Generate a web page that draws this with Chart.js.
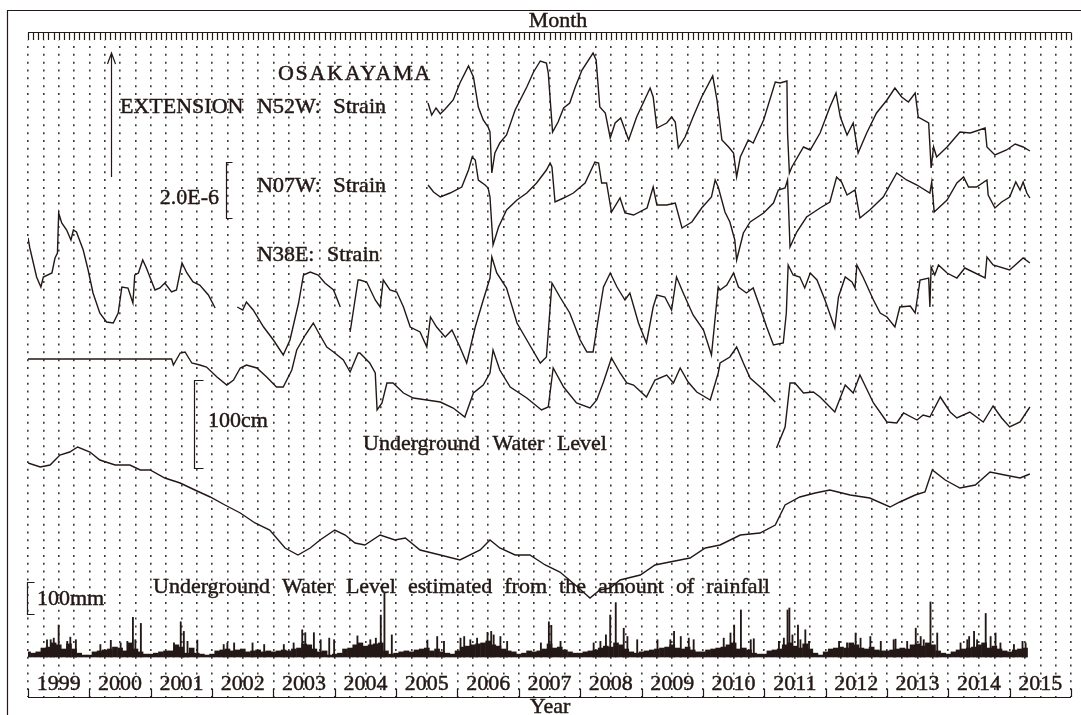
<!DOCTYPE html>
<html>
<head>
<meta charset="utf-8">
<title>OSAKAYAMA strain, water level and rainfall</title>
<script src="https://cdn.jsdelivr.net/npm/chart.js"></script>
<style>
  body { margin: 0; background: #fff; }
</style>
</head>
<body>
<canvas id="chart" width="1081" height="715"></canvas>
<script>
// time in decimal years, levels in relative display units (gaps = null)
const n52wYears = [2005.52,2005.58,2005.65,2005.72,2005.80,2005.93,2006.04,2006.18,2006.26,2006.34,2006.42,2006.50,2006.53,2006.56,2006.61,2006.69,2006.80,2006.94,2007.13,2007.24,2007.35,2007.45,2007.48,2007.55,2007.64,2007.73,2007.83,2007.92,2008.03,2008.21,2008.26,2008.32,2008.41,2008.49,2008.57,2008.66,2008.79,2008.92,2009.14,2009.19,2009.25,2009.41,2009.49,2009.55,2009.60,2009.71,2009.84,2009.98,2010.16,2010.23,2010.31,2010.42,2010.50,2010.55,2010.61,2010.74,2010.82,2010.99,2011.18,2011.26,2011.37,2011.38,2011.41,2011.45,2011.64,2011.75,2011.91,2012.07,2012.17,2012.24,2012.35,2012.45,2012.53,2012.67,2012.83,2013.00,2013.13,2013.24,2013.35,2013.46,2013.51,2013.68,2013.72,2013.76,2013.81,2013.98,2014.19,2014.36,2014.60,2014.63,2014.76,2014.95,2015.09,2015.22,2015.33];
const n52wLevel = [594,582,589,583,588,597,614,631,620,590,577,570,565,524,544,554,562,587,610,625,636,634,624,565,575,589,594,610,627,644,637,590,584,559,574,579,557,580,609,600,569,574,580,575,549,560,580,600,621,597,557,550,544,520,540,557,554,577,615,614,616,564,524,530,550,547,564,590,604,580,562,574,544,564,584,597,609,600,595,604,580,574,529,550,540,550,565,564,569,550,542,547,553,550,546];

const n07wYears = [2005.52,2005.61,2005.72,2005.88,2006.07,2006.18,2006.24,2006.29,2006.34,2006.45,2006.50,2006.53,2006.58,2006.67,2006.80,2006.97,2007.13,2007.29,2007.45,2007.51,2007.54,2007.59,2007.73,2007.89,2008.08,2008.24,2008.30,2008.35,2008.43,2008.51,2008.65,2008.73,2008.87,2009.09,2009.19,2009.25,2009.41,2009.55,2009.66,2009.82,2009.98,2010.14,2010.20,2010.25,2010.36,2010.44,2010.52,2010.55,2010.66,2010.77,2010.99,2011.15,2011.23,2011.34,2011.38,2011.42,2011.53,2011.69,2011.91,2012.07,2012.18,2012.26,2012.35,2012.48,2012.56,2012.72,2012.94,2013.16,2013.32,2013.49,2013.70,2013.73,2013.77,2013.84,2013.98,2014.14,2014.25,2014.33,2014.46,2014.63,2014.65,2014.76,2014.87,2015.00,2015.10,2015.17,2015.22,2015.28,2015.33];
const n07wLevel = [512,505,500,504,510,527,540,537,517,512,509,500,452,470,487,497,504,514,527,534,530,495,499,504,514,535,534,514,514,485,499,484,482,489,510,492,492,494,469,475,489,500,517,510,485,475,457,437,464,475,484,494,507,509,517,450,465,480,489,495,520,515,502,507,479,487,500,524,517,512,504,515,485,489,497,514,520,510,510,517,502,489,495,500,515,507,515,504,499];

const n38eYears = [1999.00,1999.03,1999.14,1999.21,1999.25,1999.39,1999.44,1999.48,1999.50,1999.55,1999.63,1999.70,1999.74,1999.79,1999.90,1999.98,2000.06,2000.17,2000.28,2000.39,2000.47,2000.53,2000.63,2000.71,2000.74,2000.80,2000.87,2000.93,2001.07,2001.15,2001.23,2001.34,2001.42,2001.51,2001.59,2001.69,2001.80,2001.94,2002.05,2002.20,2002.41,2002.50,2002.56,2002.67,2002.84,2003.00,2003.16,2003.27,2003.41,2003.49,2003.60,2003.73,2003.84,2003.98,2004.09,2004.17,2004.25,2004.38,2004.41,2004.52,2004.66,2004.74,2004.79,2004.90,2005.01,2005.12,2005.23,2005.39,2005.50,2005.56,2005.66,2005.80,2005.91,2006.04,2006.15,2006.29,2006.42,2006.53,2006.56,2006.64,2006.80,2006.97,2007.13,2007.35,2007.45,2007.54,2007.67,2007.83,2008.00,2008.11,2008.21,2008.30,2008.38,2008.49,2008.60,2008.73,2008.81,2008.95,2009.08,2009.19,2009.25,2009.38,2009.49,2009.57,2009.68,2009.84,2010.01,2010.14,2010.25,2010.28,2010.39,2010.50,2010.58,2010.71,2010.82,2010.93,2011.04,2011.15,2011.31,2011.36,2011.39,2011.47,2011.58,2011.66,2011.75,2011.86,2011.99,2012.15,2012.21,2012.32,2012.43,2012.48,2012.51,2012.61,2012.78,2012.89,2013.00,2013.13,2013.21,2013.38,2013.46,2013.54,2013.68,2013.70,2013.72,2013.78,2013.84,2013.98,2014.14,2014.27,2014.60,2014.63,2014.73,2015.00,2015.22,2015.33];
const n38eLevel = [459,449,420,410,420,424,439,444,484,474,467,457,467,465,447,427,404,384,375,374,384,410,409,394,422,424,437,429,407,409,414,405,407,434,424,415,412,402,389,null,390,387,395,387,370,357,342,357,394,422,425,422,414,407,390,null,365,417,417,415,397,390,417,407,405,390,370,365,350,380,370,360,367,350,334,370,397,419,440,424,409,374,357,334,340,414,400,384,357,345,345,380,410,424,410,397,404,374,354,390,402,400,387,420,404,382,367,342,410,407,412,424,410,404,409,390,370,352,354,384,432,422,420,409,424,417,397,369,400,420,415,409,432,420,397,384,380,370,390,391,384,417,419,390,430,422,432,424,419,429,419,440,432,427,439,434];

const waterYears = [1999.00,2001.34,2001.37,2001.48,2001.56,2001.61,2001.67,2001.80,2001.91,2002.08,2002.24,2002.35,2002.46,2002.56,2002.73,2002.89,2003.05,2003.16,2003.30,2003.38,2003.52,2003.65,2003.73,2003.87,2003.98,2004.14,2004.25,2004.38,2004.41,2004.57,2004.66,2004.69,2004.77,2004.85,2004.95,2005.12,2005.28,2005.50,2005.72,2005.93,2006.12,2006.26,2006.42,2006.53,2006.58,2006.69,2006.86,2007.13,2007.37,2007.48,2007.56,2007.73,2007.94,2008.16,2008.27,2008.38,2008.51,2008.65,2008.76,2008.87,2009.08,2009.22,2009.41,2009.52,2009.63,2009.76,2009.90,2010.12,2010.25,2010.28,2010.44,2010.55,2010.66,2010.77,2010.99,2011.18,2011.19,2011.20,2011.34,2011.42,2011.50,2011.64,2011.80,2011.91,2012.15,2012.32,2012.45,2012.56,2012.78,2013.00,2013.16,2013.27,2013.49,2013.59,2013.70,2013.87,2014.03,2014.14,2014.35,2014.57,2014.73,2014.87,2015.00,2015.17,2015.33];
const waterLevel = [338,338,332,344,345,340,334,332,330,320,312,317,329,332,329,320,310,310,327,347,362,374,365,350,345,337,325,344,344,334,324,287,294,314,314,304,299,297,295,289,280,304,312,324,347,327,310,299,287,290,329,310,294,289,297,315,339,324,314,312,300,317,322,314,329,315,305,297,324,334,340,350,334,319,307,295,null,249,270,314,314,304,305,300,285,312,304,322,294,275,274,284,277,282,280,300,285,279,285,275,291,279,270,275,290];

const estYears = [1999.00,1999.20,1999.36,1999.52,1999.68,1999.81,2000.01,2000.17,2000.42,2000.66,2000.83,2000.99,2001.23,2001.48,2001.72,2001.97,2002.21,2002.46,2002.70,2002.94,2003.19,2003.40,2003.60,2003.76,2004.00,2004.17,2004.33,2004.49,2004.74,2004.98,2005.15,2005.39,2005.72,2006.04,2006.37,2006.53,2006.69,2006.94,2007.18,2007.43,2007.67,2007.92,2008.16,2008.32,2008.49,2008.65,2008.98,2009.22,2009.46,2009.79,2010.04,2010.28,2010.61,2010.93,2011.18,2011.34,2011.58,2011.83,2012.07,2012.40,2012.72,2013.05,2013.21,2013.46,2013.62,2013.74,2013.95,2014.19,2014.44,2014.68,2014.92,2015.17,2015.33];
const estLevel = [234,230,232,242,245,250,245,237,232,232,227,227,219,214,207,200,192,184,174,167,149,142,149,157,167,162,154,152,162,157,159,147,142,137,147,157,149,142,142,132,125,112,99,107,109,117,122,132,135,139,149,152,162,164,172,192,200,204,207,202,199,190,195,202,205,227,217,209,212,225,222,219,223];

// rainfall, mm: monthly bulk level per year (Jan..Dec) and single heavy days
const rainStartYear = 1999;
const rainMonthly = [
  [16,12,16,28,31,44,38,25,41,25,12,6],
  [6,16,19,22,25,31,28,19,44,25,16,9],
  [9,12,16,19,19,38,31,12,28,12,9,6],
  [9,19,22,25,19,22,25,16,19,22,16,19],
  [16,19,22,19,25,28,41,38,25,16,19,6],
  [9,12,25,28,38,44,34,38,41,44,19,9],
  [12,16,19,16,22,25,28,19,25,16,12,9],
  [19,31,34,38,41,44,50,38,34,25,19,16],
  [9,12,19,16,19,25,41,28,31,22,16,12],
  [12,16,19,22,28,34,31,44,38,25,16,12],
  [16,19,22,25,28,31,38,28,25,31,22,16],
  [16,22,25,28,31,38,44,25,28,22,12,9],
  [9,19,22,25,38,44,34,28,41,25,12,6],
  [16,25,28,31,28,44,38,28,25,31,22,19],
  [19,22,25,28,25,38,41,34,44,38,19,12],
  [9,16,22,25,28,31,38,44,28,34,25,19],
  [16,22,25,28]
];
const rainPeakYears = [
  1999.30,1999.36,1999.41,1999.49,1999.63,1999.68,1999.77,2000.17,2000.34,2000.50,2000.61,2000.70,2000.74,2000.83,
  2001.37,2001.48,2001.53,2001.59,2001.75,2002.18,2002.24,2002.35,2002.65,2002.84,2003.16,2003.32,2003.46,2003.51,
  2003.65,2003.76,2003.90,2003.98,2004.36,2004.57,2004.66,2004.74,2004.80,2004.92,2005.50,2005.66,2005.77,2006.04,
  2006.10,2006.20,2006.31,2006.48,2006.54,2006.58,2006.69,2006.80,2007.35,2007.48,2007.52,2007.67,2008.21,2008.32,
  2008.41,2008.48,2008.57,2008.70,2008.76,2008.92,2009.25,2009.46,2009.52,2009.63,2009.76,2009.84,2010.33,2010.44,
  2010.50,2010.61,2010.77,2010.82,2011.23,2011.31,2011.37,2011.40,2011.45,2011.54,2011.58,2011.66,2011.72,2012.21,
  2012.34,2012.48,2012.56,2012.72,2012.89,2013.10,2013.13,2013.32,2013.46,2013.54,2013.59,2013.70,2013.81,2014.19,
  2014.30,2014.33,2014.41,2014.46,2014.60,2014.68,2014.76,2014.84,2015.06,2015.20,2015.25
];
const rainPeakMm = [
  54,54,59,100,49,62,54,39,52,44,49,124,54,105,
  44,110,80,49,53,39,44,44,44,39,39,44,85,76,
  76,54,59,54,66,54,59,131,199,69,53,64,49,59,
  64,54,59,77,80,69,64,49,44,110,99,49,44,49,
  69,131,170,90,64,54,54,54,80,64,59,54,59,75,
  100,147,54,57,49,59,147,153,69,100,54,85,49,49,
  44,75,59,64,49,54,56,49,90,64,54,172,75,44,
  54,64,80,54,136,64,75,44,39,49,44
];

const yearLabels = ['1999','2000','2001','2002','2003','2004','2005','2006','2007','2008','2009','2010','2011','2012','2013','2014','2015'];

const ink = '#231815';
const serif = '"Liberation Serif", "Times New Roman", serif';

function points(xs, ys) {
  return xs.map((x, i) => ({ x: x, y: ys[i] }));
}

const monthlyRain = [];
rainMonthly.forEach((months, k) => {
  months.forEach((mm, m) => monthlyRain.push({ x: rainStartYear + k + (m + 0.5) / 12, y: mm }));
});

function curve(label, xs, ys) {
  return {
    type: 'line', label: label, data: points(xs, ys), yAxisID: 'y',
    borderColor: ink, borderWidth: 1.4, pointRadius: 0, tension: 0, spanGaps: false
  };
}

// frame, month/year axes and the in-plot notes
const overlay = {
  id: 'overlay',
  beforeDraw(chart) {
    const c = chart.ctx;
    c.save();
    c.fillStyle = '#fff';
    c.fillRect(0, 0, chart.width, chart.height);
    c.restore();
  },
  afterDraw(chart) {
    const c = chart.ctx;
    const xs = chart.scales.x;
    const yr = chart.scales.yRain;
    const a = chart.chartArea;
    c.save();
    c.strokeStyle = ink;
    c.fillStyle = ink;
    c.lineWidth = 1.2;

    // outer frame (top and left)
    c.beginPath();
    c.moveTo(7.5, 715); c.lineTo(7.5, 10.5); c.lineTo(1081, 10.5);
    c.stroke();

    // month ruler
    c.beginPath();
    c.moveTo(a.left, 32.5); c.lineTo(a.right, 32.5);
    for (let m = 0; m <= 204; m++) {
      const px = Math.round(xs.getPixelForValue(1999 + m / 12)) + 0.5;
      c.moveTo(px, 32.5); c.lineTo(px, a.top);
    }
    c.stroke();

    // year axis at the bottom
    c.beginPath();
    c.moveTo(a.left, a.bottom + 0.5); c.lineTo(a.right, a.bottom + 0.5);
    for (let y = 1999; y <= 2016; y++) {
      const px = Math.round(xs.getPixelForValue(y)) + 0.5;
      c.moveTo(px, a.bottom); c.lineTo(px, a.bottom - 8);
    }
    c.stroke();

    // text drawn slightly heavy, like the printed original
    c.font = '22px ' + serif;
    c.lineWidth = 0.45;
    const text = (s, x, y) => { c.fillText(s, x, y); c.strokeText(s, x, y); };

    c.textAlign = 'center';
    text('Month', 558, 27);
    yearLabels.forEach((t, i) => text(t, xs.getPixelForValue(1999.5 + i), 690));
    text('Year', 550, 713);

    c.textAlign = 'left';
    c.wordSpacing = '7px';
    c.letterSpacing = '1.7px';
    text('OSAKAYAMA', 278, 80);
    c.letterSpacing = '0px';
    text('EXTENSION', 120, 113);
    text('N52W: Strain', 257, 113);
    text('N07W: Strain', 257, 192);
    text('N38E: Strain', 257, 261);
    text('Underground Water Level', 363, 450);
    c.wordSpacing = '6.5px';
    text('Underground Water Level estimated from the amount of rainfall', 153, 593);
    c.wordSpacing = '0px';
    text('100cm', 208, 427);
    text('100mm', 37, 605);
    c.textAlign = 'right';
    text('2.0E-6', 219, 204);

    // extension arrow
    c.lineWidth = 1.2;
    c.beginPath();
    c.moveTo(111.5, 177); c.lineTo(111.5, 54);
    c.moveTo(107.5, 64); c.lineTo(111.5, 53); c.lineTo(115.5, 64);
    c.stroke();

    // scale brackets
    const bracket = (x, y1, y2, w) => {
      c.beginPath();
      c.moveTo(x + w, y1); c.lineTo(x, y1); c.lineTo(x, y2); c.lineTo(x + w, y2);
      c.stroke();
    };
    bracket(226.5, 162.5, 218.5, 6);
    bracket(194.5, 380.5, 468.5, 9);
    bracket(27.5, Math.round(yr.getPixelForValue(234)) + 0.5, Math.round(yr.getPixelForValue(134)) + 0.5, 7);

    c.restore();
  }
};

new Chart(document.getElementById('chart'), {
  type: 'line',
  data: {
    datasets: [
      curve('N52W: Strain', n52wYears, n52wLevel),
      curve('N07W: Strain', n07wYears, n07wLevel),
      curve('N38E: Strain', n38eYears, n38eLevel),
      curve('Underground Water Level', waterYears, waterLevel),
      curve('Estimated Water Level', estYears, estLevel),
      {
        type: 'bar', label: 'Rainfall (monthly)', data: monthlyRain, yAxisID: 'yRain',
        backgroundColor: ink, barThickness: 5, borderWidth: 0
      },
      {
        type: 'bar', label: 'Rainfall (daily peaks)', data: points(rainPeakYears, rainPeakMm), yAxisID: 'yRain',
        backgroundColor: ink, barThickness: 1.2, borderWidth: 0
      }
    ]
  },
  options: {
    responsive: false,
    devicePixelRatio: 1,
    animation: false,
    layout: { padding: { left: 28, right: 10, top: 40, bottom: 18 } },
    plugins: { legend: { display: false }, tooltip: { enabled: false } },
    scales: {
      x: {
        type: 'linear', min: 1999, max: 2016, offset: false,
        ticks: { display: false, stepSize: 0.25 },
        grid: { color: '#3a3a3a', lineWidth: 1.6, drawTicks: false, offset: false },
        border: { display: false, dash: [2, 5.83], dashOffset: 1.83 },
        afterFit: s => { s.height = 0; }
      },
      y: { type: 'linear', display: false, min: 0, max: 657 },
      yRain: { type: 'linear', display: false, min: -125, max: 1928 }
    }
  },
  plugins: [overlay]
});
</script>
</body>
</html>
